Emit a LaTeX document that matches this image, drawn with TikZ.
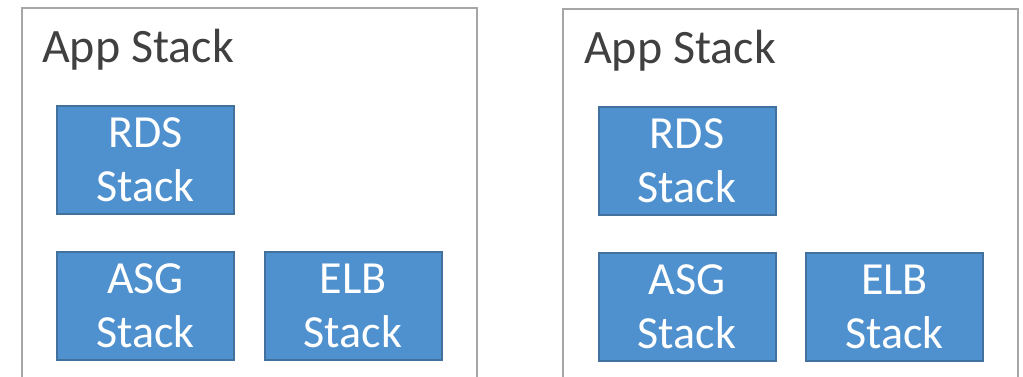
\documentclass[tikz,border=0pt]{standalone}
\usepackage{fontspec}
\setmainfont{Carlito}
\definecolor{FrameClr}{HTML}{A6A6A6}
\definecolor{TitleClr}{HTML}{404040}
\definecolor{StackFill}{HTML}{4F91CE}
\definecolor{StackLine}{HTML}{41719C}

\tikzset{
  stackbox/.style={draw=StackLine,fill=StackFill,line width=2pt,
    minimum width=177pt,minimum height=108pt,inner sep=0pt,
    text=white,align=center,
    font=\fontsize{46}{54}\selectfont},
  frame/.style={draw=FrameClr,line width=2pt},
  title/.style={anchor=base west,inner sep=0pt,text=TitleClr,
    font=\fontsize{48}{58}\selectfont}
}

\begin{document}
\begin{tikzpicture}[x=1pt,y=-1pt]
\useasboundingbox (0,0) rectangle (1023,377);

% left app stack
\draw[frame] (22,390) -- (22,8) -- (477,8) -- (477,390);
\node[title] (appL) at (42,63) {App Stack};
\node[stackbox] (rdsL) at (145.5,160) {RDS\\Stack};
\node[stackbox] (asgL) at (145.5,306) {ASG\\Stack};
\node[stackbox] (elbL) at (353,306) {ELB\\Stack};

% right app stack
\draw[frame] (563,390) -- (563,9) -- (1018,9) -- (1018,390);
\node[title] (appR) at (584,64) {App Stack};
\node[stackbox] (rdsR) at (687,161) {RDS\\Stack};
\node[stackbox] (asgR) at (687,307) {ASG\\Stack};
\node[stackbox] (elbR) at (894.5,307) {ELB\\Stack};

\end{tikzpicture}
\end{document}
